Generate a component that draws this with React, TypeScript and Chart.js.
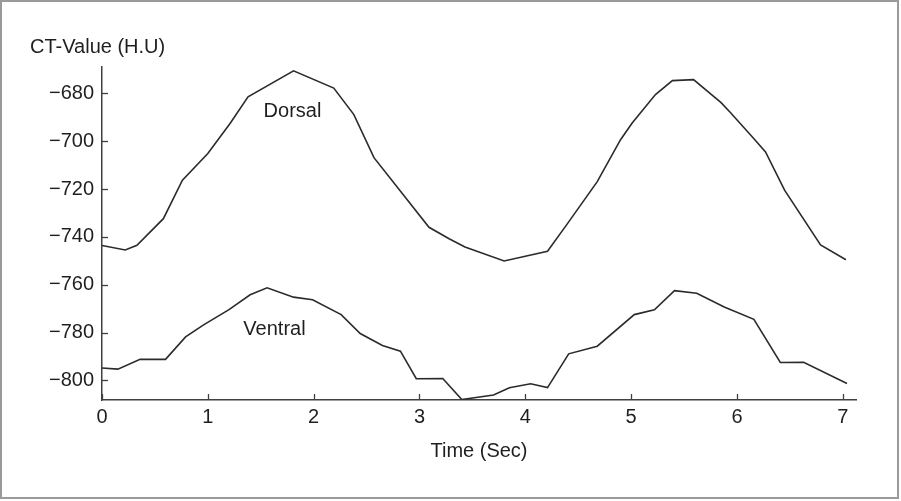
import React, { useEffect, useRef } from 'react';
import { Chart, registerables } from 'chart.js';

Chart.register(...registerables);

// ---- data ----
const dorsalTime = [0, 0.22, 0.33, 0.58, 0.76, 1.0, 1.21, 1.38, 1.81, 2.19, 2.38, 2.57, 3.09, 3.28, 3.43, 3.8, 4.21, 4.39, 4.68, 4.9, 5.01, 5.23, 5.39, 5.59, 5.85, 5.94, 6.15, 6.27, 6.45, 6.79, 7.03];
const dorsalValue = [-743.6, -745.5, -743.5, -732.4, -716.3, -705.2, -692.6, -681.5, -670.6, -677.8, -688.9, -706.9, -736.0, -740.8, -744.2, -750.1, -746.0, -735.0, -716.9, -699.4, -692.4, -680.5, -674.7, -674.3, -683.9, -688.1, -698.5, -704.5, -720.5, -743.4, -749.6];

const ventralTime = [0, 0.15, 0.36, 0.6, 0.79, 0.96, 1.2, 1.4, 1.56, 1.81, 1.99, 2.26, 2.44, 2.65, 2.82, 2.97, 3.22, 3.4, 3.7, 3.85, 4.05, 4.21, 4.41, 4.68, 5.03, 5.22, 5.41, 5.62, 5.88, 6.16, 6.41, 6.63, 7.04];
const ventralValue = [-794.8, -795.3, -791.2, -791.2, -781.8, -776.8, -770.4, -764.2, -761.3, -765.2, -766.3, -772.5, -780.4, -785.4, -787.8, -799.3, -799.2, -808.0, -806.1, -803.1, -801.4, -803.0, -788.9, -785.7, -772.5, -770.5, -762.5, -763.6, -769.3, -774.5, -792.5, -792.4, -801.3];

const xTicks = [0, 1, 2, 3, 4, 5, 6, 7];
const yTicks = [-800, -780, -760, -740, -720, -700, -680];

const seriesNames = ['Dorsal', 'Ventral'];
const seriesLabelTime = [1.8, 1.63];
const seriesLabelValue = [-687.8, -778.7];

const yTitle = 'CT-Value (H.U)';
const xTitle = 'Time (Sec)';

const FONT = '"Liberation Sans", Arial, Helvetica, sans-serif';
const INK = '#1f1f1f';
const LINE = '#2b2b2b';
const AXIS = '#404040';

const toPoints = (xs: number[], ys: number[]) => xs.map((x, i) => ({ x, y: ys[i] }));

const decorPlugin = {
  id: 'decor',
  afterDraw(chart: any) {
    const { ctx, chartArea, scales } = chart;
    const xs = scales.x;
    const ys = scales.y;
    ctx.save();
    ctx.strokeStyle = AXIS;
    ctx.lineWidth = 1.3;
    yTicks.forEach((v) => {
      const py = Math.round(ys.getPixelForValue(v)) + 0.5;
      ctx.beginPath();
      ctx.moveTo(chartArea.left, py);
      ctx.lineTo(chartArea.left + 6, py);
      ctx.stroke();
    });
    xTicks.forEach((v) => {
      const px = Math.round(xs.getPixelForValue(v)) + 0.5;
      ctx.beginPath();
      ctx.moveTo(px, chartArea.bottom);
      ctx.lineTo(px, chartArea.bottom - 6);
      ctx.stroke();
    });
    ctx.fillStyle = INK;
    ctx.font = `20px ${FONT}`;
    ctx.textAlign = 'center';
    ctx.textBaseline = 'middle';
    seriesNames.forEach((name, i) => {
      ctx.fillText(name, xs.getPixelForValue(seriesLabelTime[i]), ys.getPixelForValue(seriesLabelValue[i]));
    });
    ctx.restore();
  },
};

export default function App() {
  const canvasRef = useRef<HTMLCanvasElement | null>(null);

  useEffect(() => {
    if (!canvasRef.current) return;
    const chart = new Chart(canvasRef.current, {
      type: 'line',
      data: {
        datasets: [
          {
            label: seriesNames[0],
            data: toPoints(dorsalTime, dorsalValue),
            borderColor: LINE,
            borderWidth: 1.6,
            pointRadius: 0,
            tension: 0,
            fill: false,
          },
          {
            label: seriesNames[1],
            data: toPoints(ventralTime, ventralValue),
            borderColor: LINE,
            borderWidth: 1.6,
            pointRadius: 0,
            tension: 0,
            fill: false,
          },
        ],
      },
      options: {
        animation: false,
        responsive: false,
        devicePixelRatio: 1,
        layout: { padding: { left: 30, right: 45, top: 0, bottom: 0 } },
        plugins: {
          legend: { display: false },
          tooltip: { enabled: false },
          title: {
            display: true,
            text: yTitle,
            align: 'start',
            color: INK,
            font: { family: FONT, size: 20, weight: 'normal' },
            padding: { top: 35, bottom: 8 },
          },
        },
        scales: {
          x: {
            type: 'linear',
            min: 0,
            max: 7.125,
            grid: { display: false, drawTicks: false },
            border: { display: true, color: AXIS, width: 1.5 },
            ticks: {
              autoSkip: false,
              maxRotation: 0,
              padding: 5,
              color: INK,
              font: { family: FONT, size: 20 },
              callback: (v: any) => String(v),
            },
            afterBuildTicks: (s: any) => {
              s.ticks = xTicks.map((v) => ({ value: v }));
            },
            afterFit: (s: any) => {
              s.height = 101;
            },
            title: {
              display: true,
              text: xTitle,
              color: INK,
              font: { family: FONT, size: 20 },
              padding: { top: 0, bottom: 38 },
            },
          },
          y: {
            type: 'linear',
            min: -808.2,
            max: -669,
            grid: { display: false, drawTicks: false },
            border: { display: true, color: AXIS, width: 1.5 },
            ticks: {
              autoSkip: false,
              padding: 8,
              color: INK,
              font: { family: FONT, size: 20 },
              callback: (v: any) => (Number(v) < 0 ? '\u2212' + Math.abs(Number(v)) : String(v)),
            },
            afterBuildTicks: (s: any) => {
              s.ticks = yTicks.map((v) => ({ value: v }));
            },
            afterFit: (s: any) => {
              s.width = 72;
            },
          },
        },
      },
      plugins: [decorPlugin],
    } as any);
    return () => chart.destroy();
  }, []);

  return (
    <div style={{ position: 'fixed', left: 0, top: 0, width: 901, height: 501, background: '#fff' }}>
      <canvas ref={canvasRef} width={901} height={501} style={{ display: 'block' }} />
      <div
        style={{
          position: 'absolute',
          left: 0,
          top: 0,
          width: 899,
          height: 499,
          border: '2px solid #9a9a9a',
          boxSizing: 'border-box',
          pointerEvents: 'none',
        }}
      />
    </div>
  );
}
